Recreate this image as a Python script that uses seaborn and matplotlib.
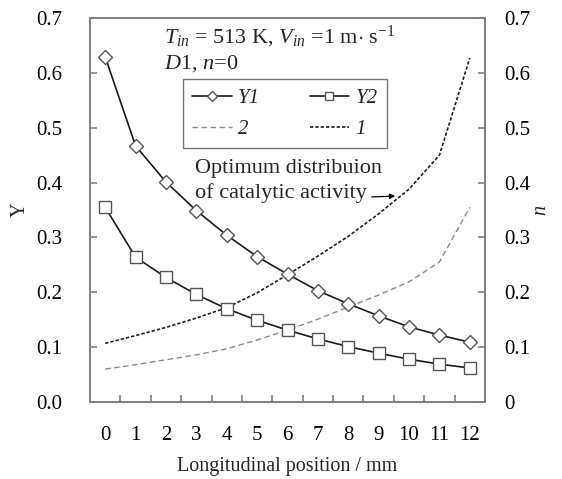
import numpy as np
import pandas as pd
import matplotlib
matplotlib.use("Agg")
import matplotlib.pyplot as plt
import seaborn as sns

# ---- data ----
positions = list(range(13))
x_tick_labels = [str(p) for p in positions]
Y1 = [0.629, 0.467, 0.401, 0.349, 0.304, 0.265, 0.233, 0.203, 0.179, 0.157, 0.137, 0.122, 0.109]
Y2 = [0.355, 0.264, 0.227, 0.196, 0.170, 0.149, 0.131, 0.115, 0.101, 0.089, 0.078, 0.069, 0.062]
n1 = [0.107, 0.121, 0.136, 0.153, 0.172, 0.199, 0.232, 0.266, 0.302, 0.343, 0.388, 0.450, 0.627]
n2 = [0.060, 0.068, 0.077, 0.086, 0.097, 0.113, 0.131, 0.151, 0.173, 0.195, 0.219, 0.255, 0.355]
y_ticks = [0.0, 0.1, 0.2, 0.3, 0.4, 0.5, 0.6, 0.7]
left_tick_labels = ["0.0", "0.1", "0.2", "0.3", "0.4", "0.5", "0.6", "0.7"]
right_tick_labels = ["0", "0.1", "0.2", "0.3", "0.4", "0.5", "0.6", "0.7"]
series_labels = ["Y1", "Y2", "2", "1"]

sns.set_theme(style="white")
plt.rcParams["font.family"] = ["Liberation Serif", "DejaVu Serif"]
plt.rcParams["mathtext.fontset"] = "custom"
plt.rcParams["mathtext.rm"] = "Liberation Serif"
plt.rcParams["mathtext.it"] = "Liberation Serif:italic"

W, H = 562, 479
fig = plt.figure(figsize=(W / 100, H / 100), dpi=100)
L, R, T, B = 90, 485, 18, 402
ax = fig.add_axes([L / W, 1 - B / H, (R - L) / W, (B - T) / H])
ax2 = ax.twinx()
ax.set_zorder(ax2.get_zorder() + 1)
ax.patch.set_visible(False)

df = pd.DataFrame({"pos": positions, "Y1": Y1, "Y2": Y2, "n1": n1, "n2": n2})

sns.lineplot(data=df, x="pos", y="n2", ax=ax2, color="#8a8a8a", lw=1.0,
             linestyle=(0, (4, 2.5)), label=series_labels[2], legend=False)
sns.lineplot(data=df, x="pos", y="n1", ax=ax2, color="#1e1e1e", lw=1.2,
             linestyle=(0, (2, 1.2)), label=series_labels[3], legend=False)
sns.lineplot(data=df, x="pos", y="Y1", ax=ax, color="#1a1a1a", lw=1.2, marker="D",
             markersize=7, markerfacecolor="white", markeredgecolor="#555555",
             markeredgewidth=1.0, label=series_labels[0], legend=False)
sns.lineplot(data=df, x="pos", y="Y2", ax=ax, color="#1a1a1a", lw=1.2, marker="s",
             markersize=8.5, markerfacecolor="white", markeredgecolor="#555555",
             markeredgewidth=1.0, label=series_labels[1], legend=False)

spine_c = "#808080"
for a in (ax, ax2):
    a.set_xlim(-0.5, 12.5)
    a.set_ylim(0, 0.7)
    a.set_xlabel("")
    a.set_ylabel("")
    for s in a.spines.values():
        s.set_color(spine_c)
        s.set_linewidth(1.3)

TS = 15
ax.set_xticks(positions)
ax.set_xticklabels(x_tick_labels)
ax.set_xticks(np.arange(0.5, 12, 1), minor=True)
ax.tick_params(axis="x", which="major", length=0, pad=17, labelsize=TS, colors="black")
ax.tick_params(axis="x", which="minor", direction="in", length=5, width=1.2, color=spine_c, bottom=True)
ax.set_yticks(y_ticks)
ax.set_yticklabels(left_tick_labels)
ax.tick_params(axis="y", direction="in", length=5, width=1.2, color=spine_c, pad=20,
               labelsize=TS, labelcolor="black", left=True)
ax2.set_yticks(y_ticks)
ax2.set_yticklabels(right_tick_labels)
ax2.tick_params(axis="y", direction="in", length=5, width=1.2, color=spine_c, pad=14,
                labelsize=TS, labelcolor="black", right=True)

# axis titles
fig.text((L + R) / 2 / W, 1 - 466 / H, "Longitudinal position / mm", ha="center", va="center", fontsize=14.5)
fig.text(20 / W, 1 - 210 / H, "Y", ha="center", va="center", rotation=90, fontsize=14.5)
fig.text(541 / W, 1 - 210 / H, "n", ha="center", va="center", rotation=90, fontsize=14.5, style="italic")

def axfrac(px, py):
    return ((px - L) / (R - L), (B - py) / (B - T))

FS = 16
ax.text(*axfrac(164, 37), r"$T_{in}$ = 513 K, $V_{in}$ =1 m$\cdot$ s$^{\mathrm{-1}}$",
        transform=ax.transAxes, ha="left", va="center", fontsize=FS)
ax.text(*axfrac(164, 64), r"$D1$, $n$=0", transform=ax.transAxes, ha="left", va="center", fontsize=FS)
ax.text(*axfrac(195, 181), "Optimum distribuion\nof catalytic activity", transform=ax.transAxes,
        ha="left", va="center", fontsize=FS, linespacing=1.35)
ax.annotate("", xy=axfrac(398, 196), xytext=axfrac(369, 197), xycoords="axes fraction",
            textcoords="axes fraction",
            arrowprops=dict(arrowstyle="-|>", color="black", lw=0.9, mutation_scale=8))

h1 = ax.get_lines()
h2 = ax2.get_lines()
handles = [h1[0], h2[0], h1[1], h2[1]]
labels = [series_labels[0], series_labels[2], series_labels[1], series_labels[3]]
x0, y1_ = axfrac(183, 79)
x1, y0_ = axfrac(387, 145)
leg = ax.legend(handles, labels, ncol=2, loc="upper left", mode="expand",
                bbox_to_anchor=(x0, y0_, x1 - x0, y1_ - y0_), bbox_transform=ax.transAxes,
                borderaxespad=0, fancybox=False, frameon=True, handlelength=1.9,
                markerscale=0.7, columnspacing=1.0, handletextpad=0.3,
                prop={"family": "Liberation Serif", "style": "italic", "size": 15},
                borderpad=0.45, labelspacing=0.55)
leg.get_frame().set_edgecolor("#555555")
leg.get_frame().set_linewidth(1.0)

fig.savefig("out.png", dpi=100)
